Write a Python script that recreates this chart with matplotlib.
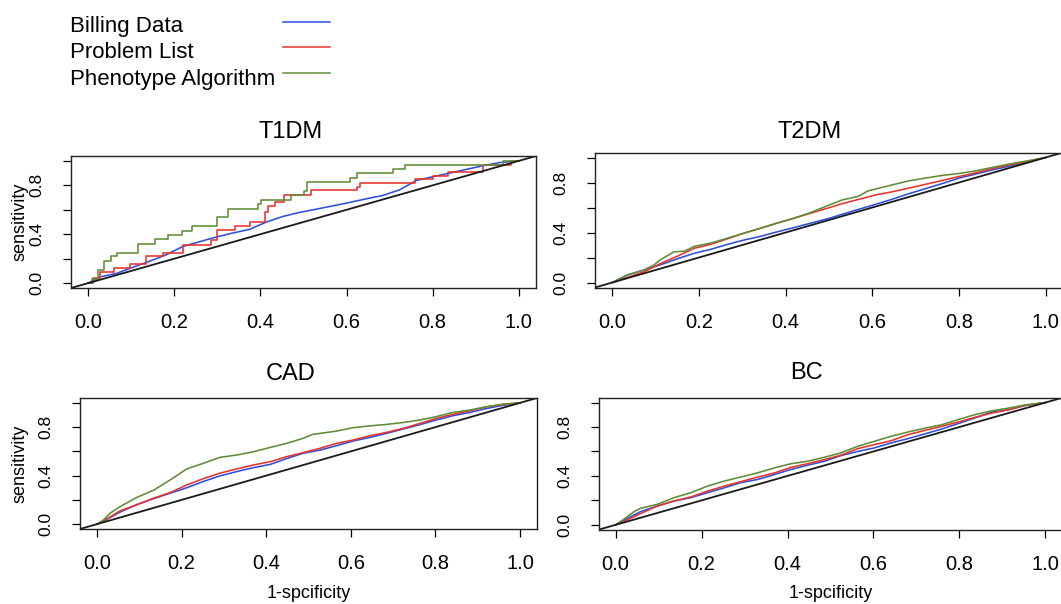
import numpy as np
import matplotlib
matplotlib.use('Agg')
import matplotlib.pyplot as plt
from matplotlib.lines import Line2D

W, H = 1061, 604

series_names = ['Billing Data', 'Problem List', 'Phenotype Algorithm']
series_colors = ['#2b50e0', '#e8322e', '#5f8d34']
panel_titles = ['T1DM', 'T2DM', 'CAD', 'BC']

# T1DM (few positives -> step curves)
t1dm_billing_x = [0, 0.027, 0.066, 0.104, 0.143, 0.18, 0.22, 0.26, 0.29, 0.336, 0.375, 0.414, 0.452, 0.49,
                  0.53, 0.568, 0.607, 0.646, 0.684, 0.723, 0.762, 0.80, 0.839, 0.878, 0.916, 0.955, 1.0]
t1dm_billing_y = [0, 0.05, 0.08, 0.13, 0.18, 0.23, 0.30, 0.34, 0.37, 0.41, 0.44, 0.50, 0.545, 0.578,
                  0.605, 0.632, 0.66, 0.69, 0.717, 0.763, 0.84, 0.87, 0.90, 0.93, 0.96, 0.986, 1.0]
t1dm_problem_x = [0, 0.012, 0.027, 0.06, 0.097, 0.135, 0.174, 0.22, 0.286, 0.30, 0.34, 0.375, 0.41, 0.418,
                  0.433, 0.454, 0.518, 0.624, 0.632, 0.76, 0.80, 0.835, 0.916, 0.982, 1.0]
t1dm_problem_y = [0, 0.04, 0.095, 0.12, 0.155, 0.22, 0.25, 0.31, 0.355, 0.435, 0.47, 0.50, 0.585, 0.627,
                  0.66, 0.72, 0.76, 0.79, 0.817, 0.85, 0.88, 0.91, 0.97, 1.0, 1.0]
t1dm_pheno_x = [0, 0.008, 0.023, 0.037, 0.053, 0.066, 0.116, 0.155, 0.186, 0.218, 0.242, 0.298, 0.325, 0.394,
                0.402, 0.47, 0.50, 0.508, 0.609, 0.624, 0.708, 0.736, 0.963, 1.0]
t1dm_pheno_y = [0, 0.033, 0.11, 0.18, 0.22, 0.25, 0.32, 0.36, 0.395, 0.43, 0.47, 0.54, 0.61, 0.65,
                0.68, 0.72, 0.75, 0.825, 0.86, 0.90, 0.935, 0.97, 1.0, 1.0]

# T2DM
t2dm_billing_x = [0, 0.035, 0.073, 0.11, 0.15, 0.19, 0.227, 0.266, 0.304, 0.343, 0.38, 0.42, 0.458, 0.497,
                  0.53, 0.568, 0.607, 0.645, 0.684, 0.722, 0.76, 0.80, 0.838, 0.876, 0.915, 0.953, 1.0]
t2dm_billing_y = [0, 0.06, 0.10, 0.14, 0.19, 0.235, 0.265, 0.305, 0.34, 0.37, 0.405, 0.44, 0.475, 0.51,
                  0.545, 0.585, 0.625, 0.665, 0.71, 0.75, 0.79, 0.835, 0.867, 0.90, 0.93, 0.96, 1.0]
t2dm_problem_x = [0, 0.035, 0.073, 0.11, 0.15, 0.19, 0.227, 0.266, 0.304, 0.343, 0.38, 0.42, 0.458, 0.497,
                  0.53, 0.568, 0.607, 0.645, 0.684, 0.722, 0.76, 0.80, 0.838, 0.876, 0.915, 0.953, 1.0]
t2dm_problem_y = [0, 0.04, 0.085, 0.15, 0.21, 0.275, 0.305, 0.35, 0.395, 0.435, 0.475, 0.515, 0.555, 0.595,
                  0.63, 0.665, 0.70, 0.725, 0.755, 0.785, 0.815, 0.848, 0.877, 0.91, 0.94, 0.965, 1.0]
t2dm_pheno_x = [0, 0.035, 0.073, 0.096, 0.11, 0.142, 0.166, 0.19, 0.227, 0.266, 0.304, 0.343, 0.38, 0.42,
                0.458, 0.497, 0.53, 0.568, 0.59, 0.645, 0.684, 0.722, 0.76, 0.80, 0.838, 0.876, 0.915,
                0.953, 1.0]
t2dm_pheno_y = [0, 0.06, 0.10, 0.14, 0.18, 0.245, 0.25, 0.29, 0.315, 0.355, 0.395, 0.435, 0.475, 0.515,
                0.56, 0.615, 0.66, 0.69, 0.733, 0.78, 0.813, 0.835, 0.856, 0.872, 0.893, 0.92, 0.947,
                0.97, 1.0]

# CAD
cad_billing_x = [0, 0.016, 0.055, 0.094, 0.134, 0.173, 0.212, 0.25, 0.29, 0.33, 0.37, 0.41, 0.448, 0.487,
                 0.527, 0.566, 0.605, 0.645, 0.684, 0.723, 0.763, 0.80, 0.84, 0.88, 0.92, 0.96, 1.0]
cad_billing_y = [0, 0.025, 0.10, 0.16, 0.21, 0.255, 0.30, 0.35, 0.397, 0.433, 0.466, 0.493, 0.54, 0.584,
                 0.61, 0.647, 0.685, 0.715, 0.748, 0.784, 0.82, 0.857, 0.893, 0.92, 0.953, 0.98, 1.0]
cad_problem_x = [0, 0.016, 0.055, 0.094, 0.134, 0.173, 0.212, 0.25, 0.29, 0.33, 0.37, 0.41, 0.448, 0.487,
                 0.527, 0.566, 0.605, 0.645, 0.684, 0.723, 0.763, 0.80, 0.84, 0.88, 0.92, 0.96, 1.0]
cad_problem_y = [0, 0.027, 0.11, 0.16, 0.214, 0.26, 0.323, 0.373, 0.42, 0.455, 0.488, 0.515, 0.556, 0.589,
                 0.625, 0.666, 0.693, 0.729, 0.756, 0.789, 0.83, 0.87, 0.904, 0.934, 0.967, 0.986, 1.0]
cad_pheno_x = [0, 0.016, 0.031, 0.055, 0.094, 0.134, 0.173, 0.212, 0.25, 0.29, 0.33, 0.37, 0.41, 0.448,
               0.487, 0.51, 0.566, 0.605, 0.645, 0.684, 0.723, 0.763, 0.80, 0.84, 0.88, 0.92, 0.96, 1.0]
cad_pheno_y = [0, 0.036, 0.09, 0.145, 0.22, 0.28, 0.364, 0.455, 0.50, 0.55, 0.57, 0.597, 0.633, 0.666,
               0.707, 0.74, 0.767, 0.795, 0.81, 0.822, 0.838, 0.858, 0.885, 0.92, 0.94, 0.967, 0.99, 1.0]

# BC
bc_billing_x = [0, 0.019, 0.058, 0.097, 0.136, 0.175, 0.214, 0.253, 0.29, 0.33, 0.37, 0.408, 0.447, 0.486,
                0.524, 0.563, 0.602, 0.641, 0.68, 0.719, 0.758, 0.796, 0.835, 0.874, 0.913, 0.952, 1.0]
bc_billing_y = [0, 0.038, 0.108, 0.154, 0.195, 0.222, 0.263, 0.303, 0.344, 0.371, 0.412, 0.453, 0.488, 0.52,
                0.566, 0.60, 0.629, 0.67, 0.705, 0.743, 0.783, 0.827, 0.873, 0.921, 0.94, 0.976, 1.0]
bc_problem_x = [0, 0.019, 0.058, 0.097, 0.136, 0.175, 0.214, 0.253, 0.29, 0.33, 0.37, 0.408, 0.447, 0.486,
                0.524, 0.563, 0.602, 0.641, 0.68, 0.719, 0.758, 0.796, 0.835, 0.874, 0.913, 0.952, 1.0]
bc_problem_y = [0, 0.027, 0.092, 0.154, 0.195, 0.228, 0.276, 0.317, 0.352, 0.39, 0.425, 0.47, 0.50, 0.534,
                0.569, 0.623, 0.656, 0.688, 0.737, 0.772, 0.805, 0.84, 0.878, 0.913, 0.94, 0.976, 1.0]
bc_pheno_x = [0, 0.019, 0.043, 0.058, 0.097, 0.136, 0.175, 0.214, 0.253, 0.29, 0.33, 0.37, 0.408, 0.447,
              0.486, 0.524, 0.563, 0.602, 0.641, 0.68, 0.719, 0.758, 0.796, 0.835, 0.874, 0.913, 0.952, 1.0]
bc_pheno_y = [0, 0.046, 0.108, 0.135, 0.168, 0.222, 0.263, 0.317, 0.358, 0.39, 0.425, 0.466, 0.50, 0.52,
              0.553, 0.588, 0.642, 0.683, 0.724, 0.759, 0.79, 0.818, 0.86, 0.90, 0.932, 0.954, 0.98, 1.0]

panel_data = [
    [(t1dm_billing_x, t1dm_billing_y), (t1dm_problem_x, t1dm_problem_y), (t1dm_pheno_x, t1dm_pheno_y)],
    [(t2dm_billing_x, t2dm_billing_y), (t2dm_problem_x, t2dm_problem_y), (t2dm_pheno_x, t2dm_pheno_y)],
    [(cad_billing_x, cad_billing_y), (cad_problem_x, cad_problem_y), (cad_pheno_x, cad_pheno_y)],
    [(bc_billing_x, bc_billing_y), (bc_problem_x, bc_problem_y), (bc_pheno_x, bc_pheno_y)],
]

yticks = [0, 0.2, 0.4, 0.6, 0.8, 1.0]
ytick_labels = ['0.0', '', '0.4', '', '0.8', '']
xticks = [0, 0.2, 0.4, 0.6, 0.8, 1.0]
xtick_labels = ['0.0', '0.2', '0.4', '0.6', '0.8', '1.0']

plt.rcParams['font.family'] = ['Liberation Sans', 'DejaVu Sans']


def fx(px):
    return px / W


def fy(py):
    return 1 - py / H


# pixel boxes (left, top, right, bottom) of each plot region
boxes = [(71, 156, 536, 288), (595, 152.5, 1063, 287.5),
         (80, 398, 537, 529), (598.5, 397.7, 1062.5, 529.7)]
title_pos = [(291, 132), (810, 132), (291, 374), (806, 373)]

fig = plt.figure(figsize=(W / 100, H / 100), dpi=100)

for i, (l, t, r, b) in enumerate(boxes):
    ax = fig.add_axes([fx(l), fy(b), (r - l) / W, (b - t) / H])
    ax.set_xlim(-0.04, 1.04)
    ax.set_ylim(-0.04, 1.04)
    for k, (xs, ys) in enumerate(panel_data[i]):
        ds = 'steps-post' if (i == 0 and k > 0) else 'default'
        ax.plot(xs, ys, color=series_colors[k], lw=1.15, drawstyle=ds)
    ax.axline((0, 0), (1, 1), color='#1a1a1a', lw=1.3)

    ax.set_xticks(xticks)
    ax.set_xticklabels(xtick_labels)
    ax.set_yticks(yticks)
    ax.set_yticklabels(ytick_labels)
    ax.tick_params(axis='x', length=6, width=0.9, pad=12, labelsize=14.5)
    ax.tick_params(axis='y', length=6, width=0.9, pad=13, labelsize=12.5, labelrotation=90)
    for lab in ax.get_yticklabels():
        lab.set_va('center')
    for s in ax.spines.values():
        s.set_linewidth(1.0)
        s.set_color('#222222')

    fig.text(fx(title_pos[i][0]), fy(title_pos[i][1]), panel_titles[i],
             ha='center', va='center', fontsize=17)

    if i % 2 == 0:
        fig.text(fx(20), fy((t + b) / 2), 'sensitivity', rotation=90,
                 ha='center', va='center', fontsize=13)
    if i >= 2:
        fig.text(fx((l + r) / 2), fy(593), '1-spcificity',
                 ha='center', va='center', fontsize=13)

# legend drawn above the panels: text left, line swatch to the right
for k, name in enumerate(series_names):
    base = [31.7, 58.3, 85][k]
    fig.text(fx(70), fy(base), name, ha='left', va='baseline', fontsize=16)
    ly = [21.7, 46.7, 72.7][k]
    fig.add_artist(Line2D([fx(283), fx(330)], [fy(ly), fy(ly)],
                          transform=fig.transFigure, color=series_colors[k], lw=1.1))

fig.savefig('out.png', dpi=100)
